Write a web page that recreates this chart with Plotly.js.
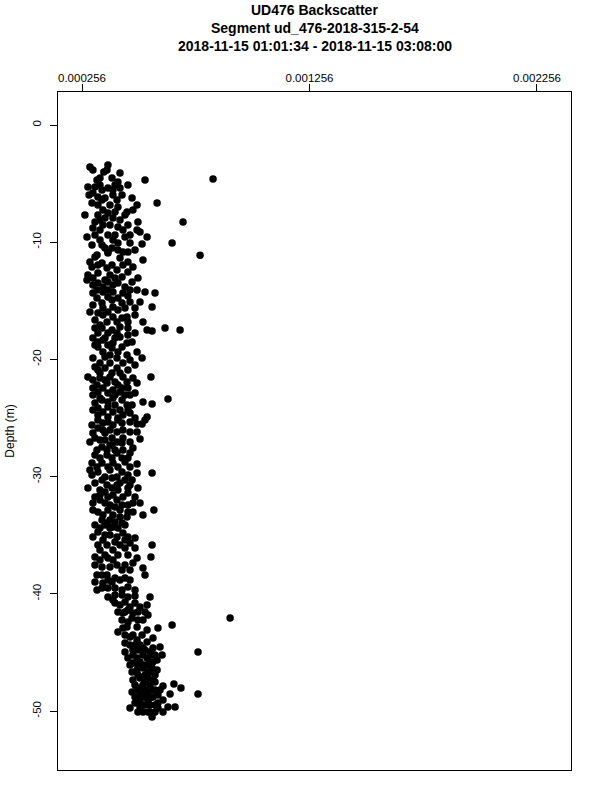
<!DOCTYPE html>
<html>
<head>
<meta charset="utf-8">
<script src="https://cdn.plot.ly/plotly-3.0.1.min.js"></script>
<style>html,body{margin:0;padding:0;background:#fff;}</style>
</head>
<body>
<div id="chart" style="width:600px;height:800px;"></div>
<script>
// Backscatter values (x) and depth (m, y)
const backscatter = [
0.000291,0.000304,0.000370,0.000366,0.000423,0.000533,0.000832,0.000282,0.000313,0.000344,0.000370,0.000414,0.000423,0.000326,0.000357,0.000432,0.000476,0.000498,0.000586,0.000300,0.000326,0.000414,0.000454,0.000269,0.000326,0.000370,0.000445,0.000700,0.000313,0.000379,0.000414,0.000502,0.000498,0.000278,0.000313,0.000370,0.000445,0.000542,0.000511,0.000652,0.000344,0.000414,0.000467,0.000520,0.000370,0.000414,0.000458,0.000775,
0.000335,0.000392,0.000348,0.000392,0.000335,0.000300,0.000322,
0.000313,0.000370,0.000524,0.000300,0.000344,0.000388,0.000436,0.000480,0.000282,0.000326,0.000379,0.000432,0.000278,0.000326,0.000370,0.000414,0.000476,0.000304,0.000348,0.000392,0.000436,0.000498,0.000533,0.000577,0.000344,0.000388,0.000432,0.000467,0.000511,0.000564,0.000291,0.000326,0.000370,0.000414,0.000454,0.000313,0.000366,0.000410,0.000524,0.000344,0.000388,0.000458,0.000542,0.000564,0.000621,0.000687,0.000304,0.000348,0.000401,0.000458,0.000423,0.000370,0.000432,0.000476,
0.000326,0.000388,0.000498,0.000520,0.000304,0.000357,0.000410,0.000467,0.000313,0.000357,0.000410,0.000282,0.000335,0.000379,0.000436,0.000480,0.000498,0.000559,0.000322,0.000366,0.000414,0.000458,0.000326,0.000370,0.000423,0.000467,0.000344,0.000392,0.000432,0.000476,0.000524,0.000564,0.000634,0.000326,0.000370,0.000423,0.000326,0.000370,0.000436,0.000467,0.000542,0.000533,0.000300,0.000348,0.000392,0.000432,0.000498,0.000520,0.000304,0.000357,0.000410,0.000467,0.000291,0.000335,0.000388,0.000436,0.000511,0.000467,
0.000344,0.000388,0.000432,0.000480,0.000467,0.000313,0.000366,0.000410,0.000300,0.000344,0.000392,0.000445,0.000498,0.000326,0.000379,0.000432,0.000498,0.000564,0.000344,0.000388,0.000445,0.000476,0.000282,0.000335,0.000388,0.000414,0.000458,0.000502,0.000313,0.000370,0.000436,0.000489,0.000304,0.000357,0.000401,0.000458,0.000511,0.000326,0.000370,0.000423,0.000524,0.000572,0.000454,0.000344,0.000366,0.000401,0.000432,0.000335,0.000379,0.000414,0.000304,0.000357,0.000410,0.000458,0.000489,
0.000401,0.000445,0.000564,0.000335,0.000392,0.000445,0.000489,0.000559,0.000313,0.000357,0.000498,0.000313,0.000344,0.000379,0.000445,0.000432,0.000524,0.000533,0.000322,0.000366,0.000401,0.000313,0.000348,0.000445,0.000458,0.000344,0.000401,0.000489,0.000370,0.000432,0.000458,0.000555,0.000401,0.000445,0.000489,0.000542,0.000414,0.000458,0.000502,0.000546,0.000432,0.000476,0.000524,0.000907,0.000414,0.000454,0.000498,0.000542,0.000590,0.000652,
0.000445,0.000498,0.000542,0.000599,0.000445,0.000502,0.000555,0.000608,0.000458,0.000498,0.000542,0.000568,0.000766,0.000476,0.000524,0.000564,0.000577,0.000480,0.000511,0.000546,0.000577,0.000612,0.000660,0.000691,0.000643,0.000766,0.000498,0.000546,0.000489,0.000533,0.000568,0.000467,0.000511,0.000555,0.000590,0.000634,0.000665,0.000546,0.000612,0.000564,
0.000524,0.000555,0.000533,0.000555,0.000533,0.000555,0.000524,0.000577,0.000546,0.000511,0.000577,0.000524,0.000480,0.000511,0.000498,0.000511,0.000476,0.000564,0.000524,0.000480,
0.000480,0.000520,0.000568,0.000467
];
const depth = [
-3.58,-3.84,-3.41,-3.84,-4.10,-4.69,-4.61,-5.29,-5.29,-5.55,-5.38,-4.86,-5.38,-6.14,-6.23,-5.97,-6.23,-6.83,-6.66,-6.66,-6.83,-7.00,-7.42,-7.68,-7.68,-7.51,-7.68,-8.28,-8.28,-8.53,-8.70,-8.28,-8.96,-9.56,-9.39,-9.39,-9.56,-9.56,-9.13,-10.07,-10.24,-10.07,-10.07,-10.15,-10.84,-10.67,-10.84,-11.10,
-4.52,-5.97,-8.53,-7.94,-8.96,-10.24,-11.09,
-11.26,-10.92,-11.52,-12.12,-11.77,-11.95,-11.95,-12.12,-12.80,-12.63,-12.80,-12.97,-13.23,-13.48,-13.40,-13.48,-13.40,-14.33,-14.25,-14.25,-14.33,-14.08,-14.25,-14.33,-15.19,-14.93,-15.19,-15.10,-15.10,-15.53,-15.96,-16.04,-15.96,-15.78,-16.38,-16.64,-16.81,-16.81,-16.81,-17.32,-17.49,-17.32,-17.49,-17.58,-17.32,-17.49,-18.17,-18.34,-18.17,-17.92,-18.09,-18.77,-18.94,-18.52,
-18.94,-19.03,-19.37,-19.88,-19.88,-19.80,-19.88,-20.05,-20.65,-20.73,-20.73,-21.50,-21.59,-21.50,-21.50,-21.59,-22.01,-21.50,-22.18,-22.01,-22.18,-22.44,-22.78,-22.87,-22.78,-23.04,-23.46,-23.29,-23.46,-23.89,-23.63,-23.81,-23.38,-24.15,-24.06,-24.32,-24.74,-24.91,-24.74,-24.57,-24.91,-25.17,-25.60,-25.43,-25.60,-25.43,-25.51,-25.51,-26.28,-26.28,-26.19,-26.19,-27.05,-26.88,-26.71,-26.71,-26.79,-27.05,
-27.47,-27.30,-27.13,-27.56,-27.99,-28.16,-28.16,-27.99,-28.84,-28.84,-28.84,-28.75,-28.92,-29.61,-29.44,-29.61,-29.69,-29.69,-30.29,-30.12,-30.29,-30.29,-30.97,-31.14,-30.97,-31.14,-30.97,-30.97,-31.74,-31.74,-31.74,-31.74,-32.25,-32.25,-32.59,-32.42,-32.25,-33.02,-32.85,-32.85,-33.28,-32.85,-33.45,-33.70,-33.96,-33.87,-33.96,-34.39,-34.39,-34.39,-35.15,-34.98,-35.15,-35.15,-35.24,
-35.58,-35.41,-35.84,-36.26,-36.26,-36.09,-36.09,-36.86,-36.86,-36.69,-36.95,-37.54,-37.71,-37.71,-37.54,-37.97,-37.80,-38.40,-38.40,-38.40,-38.65,-38.99,-39.08,-38.65,-39.42,-39.51,-39.51,-39.68,-40.27,-40.10,-40.27,-40.27,-40.78,-40.70,-40.78,-40.96,-41.55,-41.38,-41.55,-41.81,-42.24,-42.06,-42.24,-42.06,-43.26,-42.83,-42.83,-43.09,-42.92,-42.66,
-44.20,-43.94,-44.11,-44.54,-44.97,-44.80,-44.97,-45.22,-45.48,-45.48,-45.48,-45.82,-44.97,-46.67,-46.33,-46.33,-46.93,-47.35,-47.18,-47.18,-47.53,-47.87,-47.70,-48.04,-48.55,-48.55,-48.21,-48.38,-48.81,-48.81,-48.81,-49.74,-49.66,-49.49,-49.32,-49.66,-49.66,-50.09,-50.09,-50.51,
-44.63,-45.82,-46.08,-46.67,-46.93,-47.78,-47.78,-48.21,-49.06,-49.06,-49.49,-50.09,-45.90,-45.82,-46.50,-48.04,-48.38,-45.22,-45.22,-44.80,
-43.52,-43.52,-43.77,-44.37
];
// Additional points read from the dense core of the cloud
const backscatterCore = [
0.000322,0.000388,0.000335,0.000392,0.000344,0.000379,0.000348,0.000401,0.000304,0.000335,0.000392,0.000436,0.000467,0.000388,0.000436,0.000287,0.000458,0.000480,
0.000291,0.000326,0.000366,0.000410,0.000458,0.000304,0.000348,0.000392,0.000445,0.000322,0.000370,0.000414,0.000458,0.000304,0.000392,0.000348,0.000392,0.000432,0.000489,0.000335,0.000423,0.000370,0.000326,0.000489,0.000392,0.000326,0.000454,
0.000348,0.000414,0.000454,0.000335,0.000379,0.000436,0.000335,0.000388,0.000458,0.000304,0.000401,0.000454,0.000348,0.000392,0.000304,0.000401,0.000445,0.000370,0.000454,0.000304,0.000348,0.000392,0.000458,0.000326,0.000370,0.000414,0.000467,0.000326,0.000379,0.000436,0.000313,0.000357,0.000410,
0.000322,0.000366,0.000436,0.000335,0.000388,0.000432,0.000322,0.000370,0.000414,0.000467,0.000300,0.000357,0.000410,0.000458,0.000313,0.000366,0.000423,0.000357,0.000392,0.000458,0.000335,0.000410,0.000379,0.000432,0.000348,0.000392,0.000423,0.000480,0.000313,0.000357,0.000392,0.000326,0.000379,0.000436,
0.000326,0.000366,0.000423,0.000467,0.000370,0.000414,0.000458,0.000410,0.000467,0.000344,0.000388,0.000423,0.000370,0.000432,0.000401,0.000489,0.000423,0.000467,0.000511,0.000436,0.000480,0.000458,0.000502,0.000436,
0.000467,0.000511,0.000568,0.000480,0.000586,0.000467,0.000546,0.000586,0.000502,0.000546,0.000489,0.000524,0.000564,0.000590,0.000511,0.000489,0.000533,0.000612,0.000502,0.000577,0.000590,0.000533
];
const depthCore = [
-4.69,-4.52,-5.12,-5.55,-6.40,-6.83,-7.25,-7.42,-8.79,-9.81,-9.81,-8.96,-9.39,-10.49,-10.84,-5.97,-5.12,-7.25,
-11.69,-11.95,-12.20,-12.37,-12.54,-13.65,-13.82,-13.65,-13.82,-14.76,-14.68,-14.76,-14.59,-15.36,-15.53,-16.21,-16.38,-16.47,-16.21,-17.06,-17.24,-17.75,-17.75,-17.75,-18.60,-18.52,-18.60,
-19.37,-19.37,-19.62,-20.31,-20.31,-20.31,-21.16,-21.16,-20.90,-21.76,-21.93,-21.93,-22.44,-22.61,-23.04,-23.04,-23.04,-23.63,-23.89,-24.32,-24.49,-24.49,-24.32,-25.17,-25.34,-25.17,-25.34,-25.85,-26.02,-26.02,-26.71,-26.88,-27.05,
-27.73,-27.73,-27.73,-28.41,-28.41,-28.41,-29.18,-29.18,-29.18,-29.18,-29.86,-30.03,-30.03,-29.86,-30.55,-30.72,-30.55,-31.31,-31.57,-31.40,-32.00,-32.00,-32.42,-32.42,-33.28,-33.28,-33.45,-33.02,-34.13,-34.13,-34.30,-34.73,-34.98,-34.81,
-35.84,-35.84,-35.84,-35.67,-36.95,-36.69,-36.69,-37.54,-37.97,-38.40,-38.99,-38.82,-39.51,-39.68,-40.10,-40.19,-40.96,-41.13,-41.13,-41.64,-41.64,-42.41,-42.24,-42.92,
-43.69,-44.37,-44.63,-45.22,-45.65,-46.08,-46.08,-46.50,-46.93,-46.67,-47.78,-48.38,-48.21,-48.64,-48.64,-49.32,-49.49,-49.06,-50.09,-50.09,-49.74,-48.21
];
// A further set of core points filling gaps between the rows above
const backscatterFill = [
0.000352,0.000401,0.000304,0.000410,0.000357,0.000423,0.000335,0.000458,0.000401,0.000357,0.000489,
0.000423,0.000458,0.000357,0.000304,0.000401,0.000502,0.000370,0.000322,0.000467,0.000348,0.000445,0.000489,0.000313,0.000410,0.000458,0.000357,0.000313,
0.000379,0.000326,0.000423,0.000489,0.000357,0.000432,0.000304,0.000335,0.000489,0.000401,0.000313,0.000414,0.000489,0.000348,0.000498,0.000379,
0.000401,0.000458,0.000291,0.000410,0.000467,0.000335,0.000480,0.000304,0.000458,0.000379,0.000445,0.000348,
0.000392,0.000335,0.000480,0.000370,0.000467,0.000322,0.000392,0.000445,0.000533,
0.000445,0.000489,0.000533,0.000577,0.000502,0.000568,0.000533,0.000555,0.000511,0.000555,0.000599
];
const depthFill = [
-4.01,-5.12,-5.80,-6.40,-7.94,-8.11,-8.11,-8.53,-9.39,-10.49,-10.67,
-11.35,-11.69,-13.23,-13.05,-13.05,-13.05,-14.08,-14.08,-14.08,-15.61,-15.61,-15.61,-17.32,-17.75,-16.81,-18.17,-18.77,
-19.62,-20.90,-21.16,-20.48,-21.76,-22.44,-22.44,-23.29,-22.87,-23.89,-23.72,-25.00,-25.00,-26.02,-26.19,-27.30,
-27.73,-28.41,-29.44,-30.72,-30.72,-31.57,-32.25,-32.85,-33.02,-33.70,-34.13,-35.41,
-37.12,-37.12,-37.37,-38.82,-38.82,-39.68,-40.53,-41.55,-41.55,
-43.52,-44.37,-44.80,-45.22,-46.08,-47.35,-47.53,-48.89,-49.32,-50.09,-48.21
];
const xTickVals = [0.000256, 0.001256, 0.002256];
const xTickText = ['0.000256', '0.001256', '0.002256'];
const yTickVals = [-50, -40, -30, -20, -10, 0];
const yTickText = ['-50', '-40', '-30', '-20', '-10', '0'];
const titleLines = ['UD476 Backscatter', 'Segment ud_476-2018-315-2-54', '2018-11-15 01:01:34 - 2018-11-15 03:08:00'];

const font = 'Liberation Sans, Arial, Helvetica, sans-serif';

const trace = {
  x: backscatter.concat(backscatterCore, backscatterFill),
  y: depth.concat(depthCore, depthFill),
  type: 'scatter',
  mode: 'markers',
  marker: {color: '#000', size: 7.5, line: {width: 0}},
  hoverinfo: 'none'
};

// title lines placed above the plot area (paper coords; plot height 678 px)
const titleY = [10, 28, 46];
const annotations = titleLines.map((t, i) => ({
  text: '<b>' + t + '</b>',
  xref: 'paper', x: 0.5, xanchor: 'center',
  yref: 'paper', y: (770 - titleY[i]) / 678, yanchor: 'middle',
  showarrow: false,
  font: {family: font, size: 14, color: '#000'}
}));

const layout = {
  width: 600, height: 800,
  margin: {l: 58, r: 29, t: 92, b: 30, pad: 0},
  paper_bgcolor: '#fff', plot_bgcolor: '#fff',
  showlegend: false,
  font: {family: font, color: '#000', size: 11},
  annotations: annotations,
  xaxis: {
    side: 'top',
    range: [0.0001505, 0.0024055],
    tickvals: xTickVals, ticktext: xTickText,
    ticks: 'outside', ticklen: 7, tickwidth: 1, tickcolor: '#000',
    ticklabelstandoff: -3,
    showline: true, mirror: true, linecolor: '#000', linewidth: 1,
    showgrid: false, zeroline: false,
    tickfont: {family: font, size: 11.5, color: '#000'},
    automargin: false
  },
  yaxis: {
    range: [-55.03, 2.82],
    tickvals: yTickVals, ticktext: yTickText,
    tickangle: -90,
    ticks: 'outside', ticklen: 7, tickwidth: 1, tickcolor: '#000',
    ticklabelstandoff: 4,
    showline: true, mirror: true, linecolor: '#000', linewidth: 1,
    showgrid: false, zeroline: false,
    tickfont: {family: font, size: 11.5, color: '#000'},
    title: {text: 'Depth (m)', font: {family: font, size: 12, color: '#000'}, standoff: 14},
    automargin: false
  }
};

Plotly.newPlot('chart', [trace], layout, {staticPlot: true, displayModeBar: false});
</script>
</body>
</html>
